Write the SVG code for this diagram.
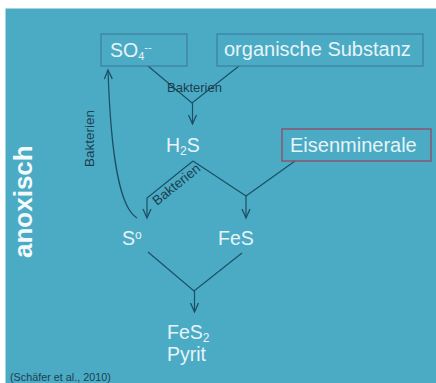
<svg xmlns="http://www.w3.org/2000/svg" width="436" height="383" viewBox="0 0 436 383">
<defs>
<marker id="arrow" markerUnits="userSpaceOnUse" markerWidth="12" markerHeight="10" refX="10" refY="5" orient="auto"><path d="M1 1 L10 5 L1 9" fill="none" stroke="#1d4f63" stroke-width="1.3"/></marker>
</defs>
<style>
text{font-family:"Liberation Sans",Arial,sans-serif}
.w{fill:#e6f4f8;font-size:20px}
.s{fill:#e6f4f8;font-size:19.500px}
.d{fill:#1c3f4e;font-size:13.500px}
.box{fill:none;stroke:#3d7f9e;stroke-width:1.200}
.line{fill:none;stroke:#1d4f63;stroke-width:1.200}
</style>
<rect width="436" height="383" fill="#fff"/>
<rect x="5.500" y="8.500" width="430.500" height="374.500" fill="#4babc5"/>
<g id="connectors">
<path class="line" d="M148 66 L192 103 L239 66"/>
<path class="line" d="M192.500 103 V124" marker-end="url(#arrow)"/>
<path class="line" d="M193 161 L147 198 V218" marker-end="url(#arrow)"/>
<path class="line" d="M193 161 L246 196 L295 161"/>
<path class="line" d="M246 196 V218" marker-end="url(#arrow)"/>
<path class="line" d="M137 218 C120 208 111 160 108 70" marker-end="url(#arrow)"/>
<path class="line" d="M148 252 L194 291 L242 253"/>
<path class="line" d="M194.500 291 V312" marker-end="url(#arrow)"/>
</g>
<g id="so4"><rect class="box" x="101" y="34" width="86" height="32"/><text class="s" x="110" y="57">SO<tspan font-size="11" dy="3">4</tspan><tspan font-size="11" dy="-9.500">--</tspan></text></g>
<g id="organische-substanz"><rect class="box" x="217" y="34" width="206" height="32"/><text class="w" x="224" y="56">organische Substanz</text></g>
<g id="eisenminerale"><rect x="282" y="129" width="149" height="32" fill="none" stroke="#8f4f68" stroke-width="1.400"/><text class="w" x="290" y="152">Eisenminerale</text></g>
<g id="h2s"><text class="s" x="166" y="152">H<tspan font-size="12" dy="3">2</tspan><tspan dy="-3">S</tspan></text></g>
<g id="s0"><text class="s" x="122" y="245">S<tspan font-size="12" dy="-6">o</tspan></text></g>
<g id="fes"><text class="s" x="218" y="245">FeS</text></g>
<g id="fes2"><text class="s" x="167" y="339">FeS<tspan font-size="12" dy="3">2</tspan></text><text class="s" x="167" y="361">Pyrit</text></g>
<text class="d" x="167" y="92" textLength="55" lengthAdjust="spacingAndGlyphs">Bakterien</text>
<text class="d" transform="translate(94 167) rotate(-90)" textLength="57" lengthAdjust="spacingAndGlyphs">Bakterien</text>
<text class="d" transform="translate(157 206) rotate(-39)" textLength="57" lengthAdjust="spacingAndGlyphs">Bakterien</text>
<text transform="translate(31.500 258) rotate(-90)" font-size="26" font-weight="700" fill="#f2fafc">anoxisch</text>
<text x="10" y="381" font-size="10.800" fill="#1c3f4e">(Schäfer et al., 2010)</text>
</svg>
